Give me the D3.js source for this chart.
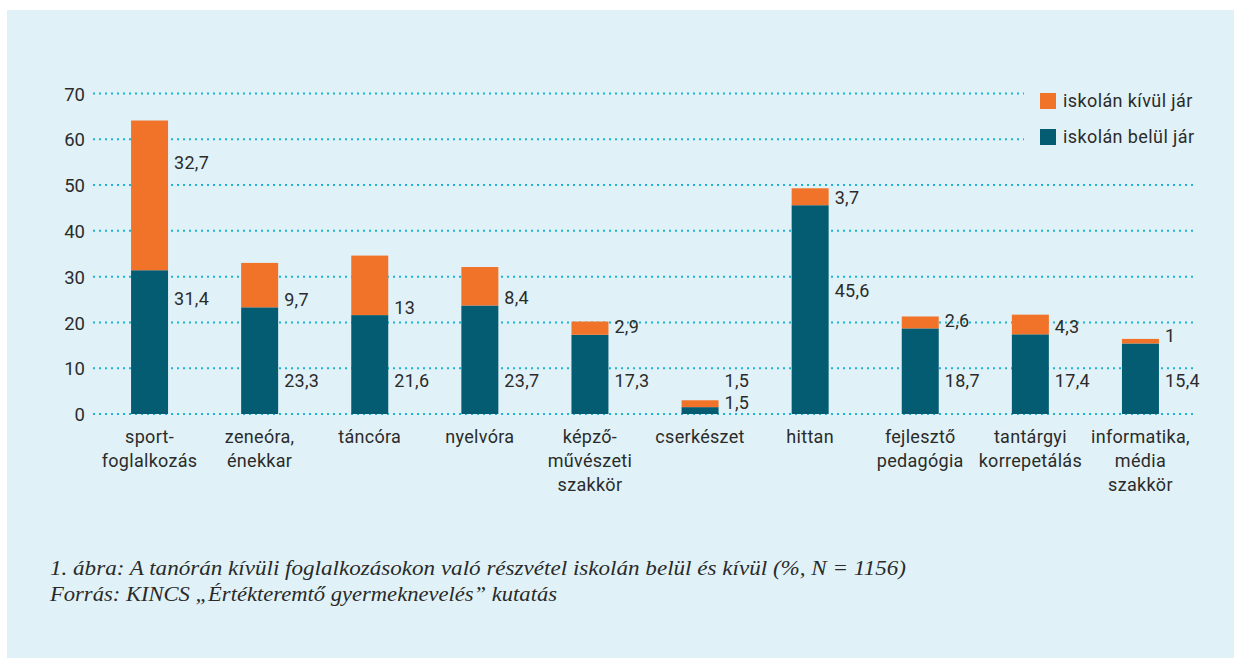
<!DOCTYPE html>
<html>
<head>
<meta charset="utf-8">
<script src="https://cdn.jsdelivr.net/npm/d3@7"></script>
<style>
  html, body { margin: 0; padding: 0; background: #ffffff; }
  svg { display: block; }
</style>
</head>
<body>
<svg id="chart" width="1234" height="658"></svg>
<script>
// ---- data ----
const categories = [
  ["sport-", "foglalkozás"],
  ["zeneóra,", "énekkar"],
  ["táncóra"],
  ["nyelvóra"],
  ["képző-", "művészeti", "szakkör"],
  ["cserkészet"],
  ["hittan"],
  ["fejlesztő", "pedagógia"],
  ["tantárgyi", "korrepetálás"],
  ["informatika,", "média", "szakkör"]
];
const insideValues  = [31.4, 23.3, 21.6, 23.7, 17.3, 1.5, 45.6, 18.7, 17.4, 15.4]; // iskolán belül jár
const outsideValues = [32.7, 9.7, 13, 8.4, 2.9, 1.5, 3.7, 2.6, 4.3, 1];            // iskolán kívül jár
const yTicks = [0, 10, 20, 30, 40, 50, 60, 70];
const seriesNames = ["iskolán kívül jár", "iskolán belül jár"];
const captionLines = [
  "1. ábra: A tanórán kívüli foglalkozásokon való részvétel iskolán belül és kívül (%, N = 1156)",
  "Forrás: KINCS „Értékteremtő gyermeknevelés” kutatás"
];

// ---- style ----
const COL_OUT = "#f07329";
const COL_IN = "#045c73";
const COL_BG = "#e0f2f7";
const COL_GRID = "#1eb4d2";
const COL_TEXT = "#2b2b2b";
const FONT = "Roboto, 'DejaVu Sans', sans-serif";

const svg = d3.select("#chart");
svg.append("rect").attr("x", 7).attr("y", 10).attr("width", 1227).attr("height", 648).attr("fill", COL_BG);

const data = categories.map((c, i) => ({ idx: i, lines: c, inside: insideValues[i], outside: outsideValues[i] }));

const x = d3.scaleBand().domain(data.map(d => d.idx)).range([94.5, 1195.5]).paddingInner(0.664).paddingOuter(0.332);
const y = d3.scaleLinear().domain([0, 70]).range([414, 93.5]);

// grid lines (dotted)
const grid = svg.append("g");
yTicks.forEach(t => {
  const x2 = t >= 60 ? 1024 : 1196;
  grid.append("line")
    .attr("x1", 93).attr("x2", x2)
    .attr("y1", y(t)).attr("y2", y(t))
    .attr("stroke", COL_GRID).attr("stroke-width", 2)
    .attr("stroke-dasharray", "2,4");
});

// y axis labels
const yAxis = d3.axisLeft(y).tickValues(yTicks).tickSize(0).tickPadding(0).tickFormat(d3.format("d"));
const gy = svg.append("g").attr("transform", "translate(85,0)").call(yAxis);
gy.select(".domain").remove();
gy.selectAll("text").attr("font-family", FONT).attr("font-size", 18.5).attr("fill", COL_TEXT).attr("dy", "0.36em");

// bars
const bars = svg.append("g");
bars.selectAll("rect.in").data(data).join("rect")
  .attr("class", "in")
  .attr("x", d => x(d.idx)).attr("width", x.bandwidth())
  .attr("y", d => y(d.inside)).attr("height", d => y(0) - y(d.inside))
  .attr("fill", COL_IN);
bars.selectAll("rect.out").data(data).join("rect")
  .attr("class", "out")
  .attr("x", d => x(d.idx)).attr("width", x.bandwidth())
  .attr("y", d => y(d.inside + d.outside)).attr("height", d => y(d.inside) - y(d.inside + d.outside))
  .attr("fill", COL_OUT);

// value labels
const fmt = v => String(v).replace(".", ",");
function inLabelY(d) {
  if (d.inside < 5) return y(d.inside + d.outside) + 2;
  if (d.inside > 30) return y(Math.min(d.inside * 0.8, 27));
  return y(7.4);
}
function outLabelY(d) {
  if (d.inside < 5) return inLabelY(d) - 22;
  if (d.outside > 20) return y(d.inside + d.outside * 0.72);
  return y(d.inside) - 8;
}
const labels = svg.append("g").attr("font-family", FONT).attr("font-size", 18).attr("fill", COL_TEXT).attr("letter-spacing", 0.3);
labels.selectAll("text.lin").data(data).join("text")
  .attr("x", d => x(d.idx) + x.bandwidth() + 6)
  .attr("y", d => inLabelY(d)).attr("dy", "0.36em")
  .text(d => fmt(d.inside));
labels.selectAll("text.lout").data(data).join("text")
  .attr("x", d => x(d.idx) + x.bandwidth() + 6)
  .attr("y", d => outLabelY(d)).attr("dy", "0.36em")
  .text(d => fmt(d.outside));

// category labels
const cat = svg.append("g").attr("font-family", FONT).attr("font-size", 18).attr("fill", COL_TEXT).attr("text-anchor", "middle").attr("letter-spacing", 0.3);
data.forEach(d => {
  const t = cat.append("text").attr("x", x(d.idx) + x.bandwidth() / 2).attr("y", 443);
  d.lines.forEach((ln, j) => {
    t.append("tspan").attr("x", x(d.idx) + x.bandwidth() / 2).attr("dy", j === 0 ? 0 : 24).text(ln);
  });
});

// legend
const legend = svg.append("g").attr("font-family", FONT).attr("font-size", 18).attr("fill", COL_TEXT).attr("letter-spacing", 0.4);
[COL_OUT, COL_IN].forEach((c, i) => {
  const cy = 101 + i * 36;
  legend.append("rect").attr("x", 1040).attr("y", cy - 8).attr("width", 16).attr("height", 16).attr("fill", c);
  legend.append("text").attr("x", 1063).attr("y", cy).attr("dy", "0.36em").text(seriesNames[i]);
});

// caption
const cap = svg.append("g").attr("font-family", "'Liberation Serif', 'DejaVu Serif', serif").attr("font-style", "italic").attr("font-size", 20).attr("fill", "#2a2a2a");
const capWidths = [856, 507];
captionLines.forEach((ln, i) => {
  cap.append("text").attr("x", 50).attr("y", 575 + i * 26)
    .attr("textLength", capWidths[i]).attr("lengthAdjust", "spacingAndGlyphs")
    .text(ln);
});
</script>
</body>
</html>
